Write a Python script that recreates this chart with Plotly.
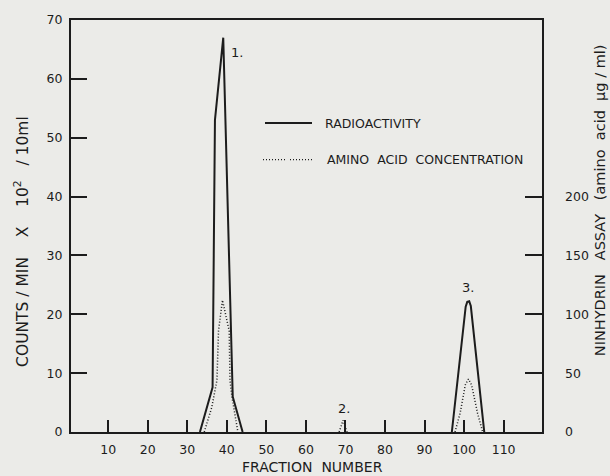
import plotly.graph_objects as go

# Fraction numbers and values
frac_radio = [33.2, 36.4, 37.0, 39.1, 41.5, 44.0, None,
              96.9, 100.4, 100.8, 101.3, 101.7, 105.1]
radioactivity = [0, 7.6, 53, 67, 6, 0, None,
                 0, 21.3, 22.1, 22.2, 21.4, 0]          # counts/min x10^2 /10ml

frac_amino = [34.3, 36.2, 37.5, 37.9, 38.9, 40.6, 40.8, 41.3, 42.8, None,
              68.4, 69.4, 70.4, None,
              97.7, 99.0, 100.3, 101.1, 101.9, 103.4, 104.7]
amino_acid = [0, 21, 44, 86, 112, 86, 44, 30, 0, None,
              0, 10, 0, None,
              0, 16, 40, 45, 40, 16, 0]                 # ug/ml (ninhydrin assay)

x_ticks = [10, 20, 30, 40, 50, 60, 70, 80, 90, 100, 110]
y_left_ticks = [0, 10, 20, 30, 40, 50, 60, 70]
y_right_ticks = [0, 50, 100, 150, 200]

peak_labels = ["1.", "2.", "3."]
peak_label_x = [42.5, 69.6, 101.1]
peak_label_y = [64.5, 4.0, 24.5]

INK = "#1c1c1c"
PAPER = "#ebebe8"
FONT = "DejaVu Sans"

fig = go.Figure()
fig.add_trace(go.Scatter(x=frac_radio, y=radioactivity, mode="lines",
                         line=dict(color=INK, width=2), name="RADIOACTIVITY",
                         showlegend=False, connectgaps=False))
fig.add_trace(go.Scatter(x=frac_amino, y=amino_acid, mode="lines", yaxis="y2",
                         line=dict(color=INK, width=1.5, dash="1px,2px"),
                         name="AMINO ACID CONCENTRATION", showlegend=False,
                         connectgaps=False))

ann = []
for t, px_, py_ in zip(peak_labels, peak_label_x, peak_label_y):
    ann.append(dict(x=px_, y=py_, xref="x", yref="y", text=t, showarrow=False,
                    xanchor="center", yanchor="middle",
                    font=dict(family=FONT, size=13, color=INK)))

# axis titles
ann.append(dict(x=-0.104, y=0.4615, xref="paper", yref="paper",
                xanchor="center", yanchor="middle",
                text="COUNTS / MIN    X    10<sup>2</sup>   / 10ml", textangle=-90,
                showarrow=False, font=dict(family=FONT, size=15.5, color=INK)))
ann.append(dict(x=1.123, y=0.5625, xref="paper", yref="paper",
                xanchor="center", yanchor="middle",
                text="NINHYDRIN   ASSAY   (amino  acid  µg / ml)", textangle=-90,
                showarrow=False, font=dict(family=FONT, size=14.5, color=INK)))
ann.append(dict(x=0.512, y=-0.0841, xref="paper", yref="paper",
                xanchor="center", yanchor="middle",
                text="FRACTION  NUMBER", showarrow=False,
                font=dict(family=FONT, size=14, color=INK)))

# legend (manual)
ann.append(dict(x=(323 - 71) / 471, y=(432 - 120) / 416, xref="paper", yref="paper",
                xanchor="left", yanchor="middle", text="RADIOACTIVITY", showarrow=False,
                font=dict(family=FONT, size=12.5, color=INK)))
ann.append(dict(x=(325 - 71) / 471, y=(432 - 157) / 416, xref="paper", yref="paper",
                xanchor="left", yanchor="middle", text="AMINO  ACID  CONCENTRATION",
                showarrow=False, font=dict(family=FONT, size=12.5, color=INK)))

shapes = [
    dict(type="line", xref="paper", yref="paper",
         x0=(265 - 71) / 471, x1=(312 - 71) / 471,
         y0=(432 - 120) / 416, y1=(432 - 120) / 416,
         line=dict(color=INK, width=1.8)),
    dict(type="line", xref="paper", yref="paper",
         x0=(263 - 71) / 471, x1=(285 - 71) / 471,
         y0=(432 - 157) / 416, y1=(432 - 157) / 416,
         line=dict(color=INK, width=1.3, dash="1px,2px")),
    dict(type="line", xref="paper", yref="paper",
         x0=(290 - 71) / 471, x1=(313 - 71) / 471,
         y0=(432 - 157) / 416, y1=(432 - 157) / 416,
         line=dict(color=INK, width=1.3, dash="1px,2px")),
]

fig.update_layout(
    width=610, height=476,
    margin=dict(l=71, r=68, t=16, b=44),
    paper_bgcolor=PAPER, plot_bgcolor=PAPER,
    showlegend=False,
    annotations=ann, shapes=shapes,
    font=dict(family=FONT, color=INK),
    xaxis=dict(range=[0.6, 119.7], tickvals=x_ticks, ticks="inside", ticklen=12,
               tickwidth=1.5, tickcolor=INK, showline=True, linecolor=INK,
               linewidth=2, mirror=True, showgrid=False, zeroline=False,
               tickfont=dict(family=FONT, size=12.5, color=INK),
               ticklabelstandoff=5),
    yaxis=dict(range=[0, 70], tickvals=y_left_ticks, ticks="inside", ticklen=16,
               tickwidth=1.5, tickcolor=INK, showline=True, linecolor=INK,
               linewidth=2, mirror=True, showgrid=False, zeroline=False,
               tickfont=dict(family=FONT, size=12.5, color=INK),
               ticklabelstandoff=4),
    yaxis2=dict(range=[0, 350], tickvals=y_right_ticks, overlaying="y", side="right",
                ticks="inside", ticklen=17, tickwidth=1.5, tickcolor=INK,
                showline=False, showgrid=False, zeroline=False,
                tickfont=dict(family=FONT, size=12.5, color=INK),
                ticklabelstandoff=22),
)

fig.write_html("out.html", config={"displayModeBar": False},
               post_script="document.body.style.margin='0';document.body.style.background='%s';" % PAPER)
